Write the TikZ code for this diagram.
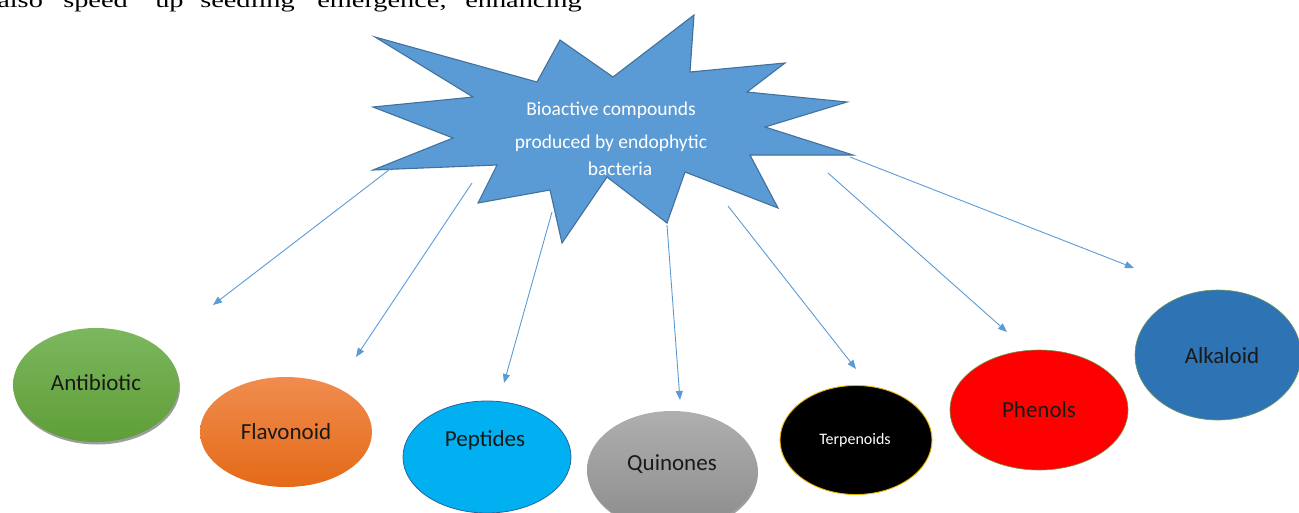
\documentclass[tikz,border=0pt]{standalone}
\usepackage{fontspec}
\setmainfont{Carlito}
\newfontfamily\timesfont{Liberation Serif}
\usetikzlibrary{shapes.geometric,arrows.meta,shadows}
\definecolor{arrowblue}{HTML}{5B9BD5}
\definecolor{starfill}{HTML}{5B9BD5}
\definecolor{starline}{HTML}{41719C}
\definecolor{greentop}{RGB}{124,183,94}
\definecolor{greenbot}{RGB}{94,158,55}
\definecolor{orangetop}{RGB}{240,140,78}
\definecolor{orangebot}{RGB}{228,106,24}
\definecolor{peptfill}{RGB}{0,176,240}
\definecolor{peptline}{RGB}{40,100,160}
\definecolor{graytop}{RGB}{175,175,175}
\definecolor{graybot}{RGB}{140,140,140}
\definecolor{goldline}{RGB}{230,180,0}
\definecolor{greenline}{RGB}{110,150,70}
\definecolor{alkafill}{RGB}{46,116,181}
\definecolor{alkaline}{RGB}{110,150,90}
\tikzset{
  conn/.style={draw=arrowblue, line width=0.9pt, -{Triangle[length=9pt,width=7pt]}},
  oval/.style={ellipse, inner sep=0pt},
  ovaltext/.style={font=\fontsize{23}{26}\selectfont, text=black!90},
  startext/.style={font=\fontsize{19.5}{22}\selectfont, text=white},
  topword/.style={anchor=base west, inner sep=0pt, font=\timesfont\fontsize{21}{24}\selectfont, xscale=1.35, transform shape},
  shadowed/.style={drop shadow={shadow xshift=1pt, shadow yshift=-2.5pt, opacity=0.55, fill=black!70}}
}
\begin{document}
\begin{tikzpicture}[x=1pt,y=-1pt]
\useasboundingbox (0,0) rectangle (1299,512);
% cropped line of running text at the top
\node[topword] (w1) at (-3,7) {also};
\node[topword] (w2) at (63,7) {speed};
\node[topword] (w3) at (155,7) {up};
\node[topword] (w4) at (200,7) {seedling};
\node[topword] (w5) at (317,7) {emergence,};
\node[topword] (w6) at (465,7) {enhancing};
% star
\draw[fill=starfill, draw=starline, line width=1.1pt, line join=miter]
  (375,37) -- (537,82) -- (560,40) -- (613,77) -- (694,15) -- (690,72)
  -- (785,63) -- (747,92) -- (847,102) -- (765,127) -- (853,155)
  -- (750,155) -- (778,208) -- (685,172) -- (667,223) -- (607,177)
  -- (562,243) -- (550,190) -- (478,203) -- (497,165) -- (373,170)
  -- (453,138) -- (373,107) -- (473,97) -- cycle;
\node[startext] (star) at (611,110) {Bioactive compounds};
\node[startext] (star2) at (611,143) {produced by endophytic};
\node[startext] (star3) at (620,169) {bacteria};
% ellipses
\node[oval, minimum width=166pt, minimum height=114pt, top color=greentop, bottom color=greenbot, shadowed] (anti) at (96,385) {};
\node[ovaltext] (antiT) at (96,383) {Antibiotic};
\node[oval, minimum width=172pt, minimum height=110pt, top color=orangetop, bottom color=orangebot] (flav) at (286,432) {};
\node[ovaltext] (flavT) at (286,432) {Flavonoid};
\node[oval, minimum width=168pt, minimum height=112pt, fill=peptfill, draw=peptline, line width=0.8pt] (pept) at (487,457) {};
\node[ovaltext] (peptT) at (485,440) {Peptides};
\node[oval, minimum width=170pt, minimum height=118pt, top color=graytop, bottom color=graybot, shadowed] (quin) at (672,470) {};
\node[ovaltext] (quinT) at (672,464) {Quinones};
\node[oval, minimum width=152pt, minimum height=109pt, fill=black, draw=goldline, line width=0.9pt] (terp) at (856,440) {};
\node[font=\fontsize{16}{18}\selectfont, text=white] (terpT) at (855,440) {Terpenoids};
\node[oval, minimum width=178pt, minimum height=120pt, fill=red, draw=greenline, line width=0.6pt] (phen) at (1039,410) {};
\node[ovaltext] (phenT) at (1039,410) {Phenols};
\node[oval, minimum width=166pt, minimum height=130pt, fill=alkafill, draw=alkaline, line width=0.6pt] (alka) at (1218,355) {};
\node[ovaltext] (alkaT) at (1222,356) {Alkaloid};
% arrow end points
\coordinate (s1) at (398,163); \coordinate (e1) at (213,305);
\coordinate (s2) at (472,183); \coordinate (e2) at (356,357);
\coordinate (s3) at (552,212); \coordinate (e3) at (504,383);
\coordinate (s4) at (667,225); \coordinate (e4) at (680,400);
\coordinate (s5) at (728,206); \coordinate (e5) at (856,369);
\coordinate (s6) at (828,173); \coordinate (e6) at (1007,332);
\coordinate (s7) at (850,157); \coordinate (e7) at (1134,268);
\draw[conn] (s1) -- (e1);
\draw[conn] (s2) -- (e2);
\draw[conn] (s3) -- (e3);
\draw[conn] (s4) -- (e4);
\draw[conn] (s5) -- (e5);
\draw[conn] (s6) -- (e6);
\draw[conn] (s7) -- (e7);
\end{tikzpicture}
\end{document}
